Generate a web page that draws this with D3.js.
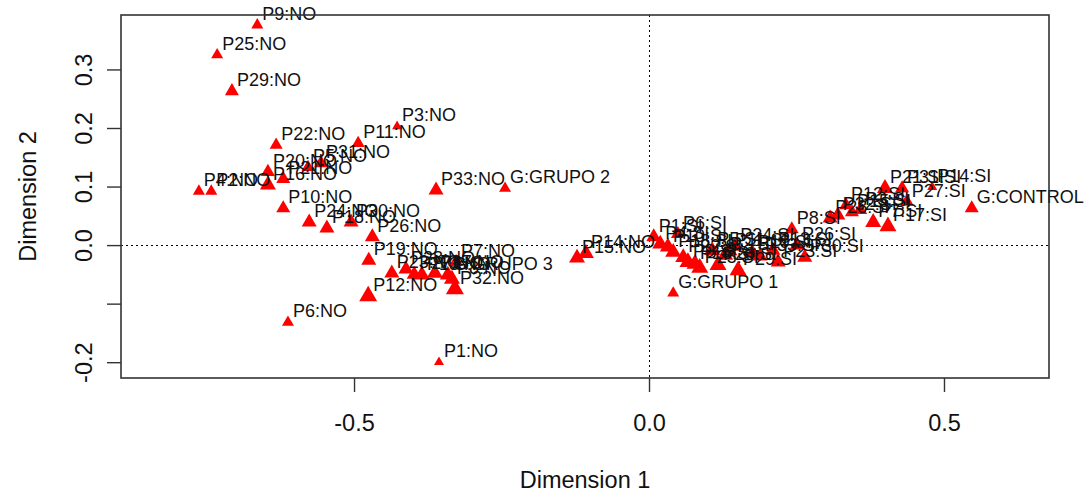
<!DOCTYPE html>
<html><head><meta charset="utf-8">
<script src="https://cdn.jsdelivr.net/npm/d3@7"></script>
<style>
body{margin:0;background:#fff;}
svg{display:block;font-family:"Liberation Sans",Arial,sans-serif;}
</style></head>
<body>
<svg id="chart" width="1088" height="494"></svg>
<script>
// ---- data (MCA column coordinates) ----
const categories = [
 "P1:NO","P2:NO","P3:NO","P4:NO","P5:NO","P6:NO","P7:NO","P8:NO","P9:NO","P10:NO",
 "P11:NO","P12:NO","P13:NO","P14:NO","P15:NO","P16:NO","P17:NO","P18:NO","P19:NO","P20:NO",
 "P21:NO","P22:NO","P23:NO","P24:NO","P25:NO","P26:NO","P27:NO","P28:NO","P29:NO","P30:NO",
 "P31:NO","P32:NO","P33:NO",
 "P1:SI","P2:SI","P3:SI","P4:SI","P5:SI","P6:SI","P7:SI","P8:SI","P9:SI","P10:SI",
 "P11:SI","P12:SI","P13:SI","P14:SI","P15:SI","P16:SI","P17:SI","P18:SI","P19:SI","P20:SI",
 "P21:SI","P22:SI","P23:SI","P24:SI","P25:SI","P26:SI","P27:SI","P28:SI","P29:SI","P30:SI",
 "P31:SI","P32:SI","P33:SI",
 "G:CONTROL","G:GRUPO 1","G:GRUPO 2","G:GRUPO 3"
];
const dim1 = [
 -0.356,-0.742,-0.427,-0.763,-0.578,-0.612,-0.327,-0.334,-0.664,-0.620,
 -0.493,-0.476,-0.385,-0.107,-0.122,-0.646,-0.363,-0.546,-0.475,-0.646,
 -0.620,-0.632,-0.436,-0.576,-0.732,-0.469,-0.398,-0.412,-0.707,-0.505,
 -0.556,-0.329,-0.361,
 0.008,0.129,0.358,0.019,0.107,0.049,0.380,0.242,0.066,0.032,
 0.137,0.334,0.210,0.480,0.344,0.078,0.405,0.041,0.176,0.117,
 0.400,0.058,0.219,0.146,0.086,0.251,0.437,0.307,0.151,0.264,
 0.429,0.320,0.188,
 0.547,0.041,-0.244,-0.341
];
const dim2 = [
 -0.200,0.092,0.203,0.092,0.133,-0.132,-0.029,-0.058,0.376,0.063,
 0.174,-0.087,-0.051,-0.014,-0.022,0.103,-0.048,0.029,-0.026,0.125,
 0.113,0.171,-0.048,0.039,0.325,0.014,-0.050,-0.041,0.263,0.039,
 0.140,-0.075,0.094,
 0.014,-0.017,0.060,0.002,-0.009,0.019,0.039,0.027,-0.029,-0.003,
 -0.010,0.068,-0.009,0.099,0.056,-0.032,0.032,-0.012,-0.014,-0.034,
 0.097,-0.021,-0.029,-0.002,-0.039,0.000,0.074,0.046,-0.043,-0.021,
 0.097,0.051,-0.019,
 0.063,-0.082,0.097,-0.051
];
// relative symbol weight (quality / mass)
const mass = [
 1.0,1.2,1.0,1.2,1.3,1.2,1.4,1.6,1.2,1.4,
 1.3,1.8,1.6,1.6,1.6,1.6,1.6,1.5,1.5,1.4,
 1.4,1.3,1.5,1.5,1.2,1.5,1.5,1.5,1.4,1.5,
 1.4,1.8,1.5,
 1.5,1.6,1.4,1.6,1.6,1.4,1.6,1.4,1.7,1.6,
 1.5,1.4,1.5,1.0,1.4,1.7,1.7,1.6,1.5,1.7,
 1.6,1.6,1.5,1.5,1.7,1.5,1.4,1.5,1.7,1.5,
 1.4,1.5,1.5,
 1.4,1.2,1.2,1.6
];
const xTicks = [-0.5, 0.0, 0.5];
const xTickLabels = ["-0.5","0.0","0.5"];
const yTicks = [-0.2,-0.1,0.0,0.1,0.2,0.3];
const yTickLabels = ["-0.2","","0.0","0.1","0.2","0.3"];
const xTitle = "Dimension 1";
const yTitle = "Dimension 2";

// ---- layout ----
const svg = d3.select("#chart");
const L = 121, R = 1049, T = 15, B = 378;
const x = d3.scaleLinear().domain([-0.895, 0.678]).range([L, R]);
const y = d3.scaleLinear().domain([-0.227, 0.393]).range([B, T]);
const side = d3.scaleLinear().domain([1, 1.8]).range([10, 18]);

const pts = categories.map((c,i)=>({label:c, d1:dim1[i], d2:dim2[i], m:mass[i]}));

// reference lines
svg.append("line").attr("x1",L).attr("x2",R).attr("y1",Math.round(y(0))+0.5).attr("y2",Math.round(y(0))+0.5)
  .attr("stroke","#000").attr("stroke-width",1).attr("stroke-dasharray","2,3");
svg.append("line").attr("y1",T).attr("y2",B).attr("x1",Math.round(x(0))+0.5).attr("x2",Math.round(x(0))+0.5)
  .attr("stroke","#000").attr("stroke-width",1).attr("stroke-dasharray","2,3");

// points
const tri = d3.symbol().type(d3.symbolTriangle);
svg.append("g").selectAll("path").data(pts).join("path")
  .attr("transform",d=>`translate(${x(d.d1)},${y(d.d2)})`)
  .attr("d",d=>{const s=side(d.m); return tri.size(Math.sqrt(3)/4*s*s)();})
  .attr("fill","#ff0000");

// labels
svg.append("g").selectAll("text").data(pts).join("text")
  .attr("x",d=>x(d.d1)+5).attr("y",d=>y(d.d2)-5)
  .attr("font-size",18).attr("fill","#111")
  .text(d=>d.label);

// box
svg.append("rect").attr("x",L).attr("y",T).attr("width",R-L).attr("height",B-T)
  .attr("fill","none").attr("stroke","#333").attr("stroke-width",1.6);

// x axis
const xa = d3.axisBottom(x).tickValues(xTicks).tickSize(14).tickFormat((d,i)=>xTickLabels[i]);
const gx = svg.append("g").attr("transform",`translate(0,${B})`).call(xa);
gx.select(".domain").remove();
gx.selectAll(".tick line").attr("stroke","#333").attr("stroke-width",1.4);
gx.selectAll(".tick text").attr("font-size",23.5).attr("fill","#111")
  .attr("font-family","Liberation Sans, Arial, sans-serif").attr("dy",null).attr("y",53);

// y axis
const ya = d3.axisLeft(y).tickValues(yTicks).tickSize(14).tickFormat((d,i)=>yTickLabels[i]);
const gy = svg.append("g").attr("transform",`translate(${L},0)`).call(ya);
gy.select(".domain").remove();
gy.selectAll(".tick line").attr("stroke","#333").attr("stroke-width",1.4);
gy.selectAll(".tick text").attr("font-size",23.5).attr("fill","#111")
  .attr("font-family","Liberation Sans, Arial, sans-serif")
  .attr("x",null).attr("dy",null).attr("text-anchor","middle")
  .attr("transform","translate(-29,0) rotate(-90)");

// titles
svg.append("text").attr("x",(L+R)/2).attr("y",488).attr("text-anchor","middle")
  .attr("font-size",23.5).attr("fill","#111").text(xTitle);
svg.append("text").attr("transform",`translate(36,${(T+B)/2}) rotate(-90)`).attr("text-anchor","middle")
  .attr("font-size",23.5).attr("fill","#111").text(yTitle);
</script>
</body></html>
